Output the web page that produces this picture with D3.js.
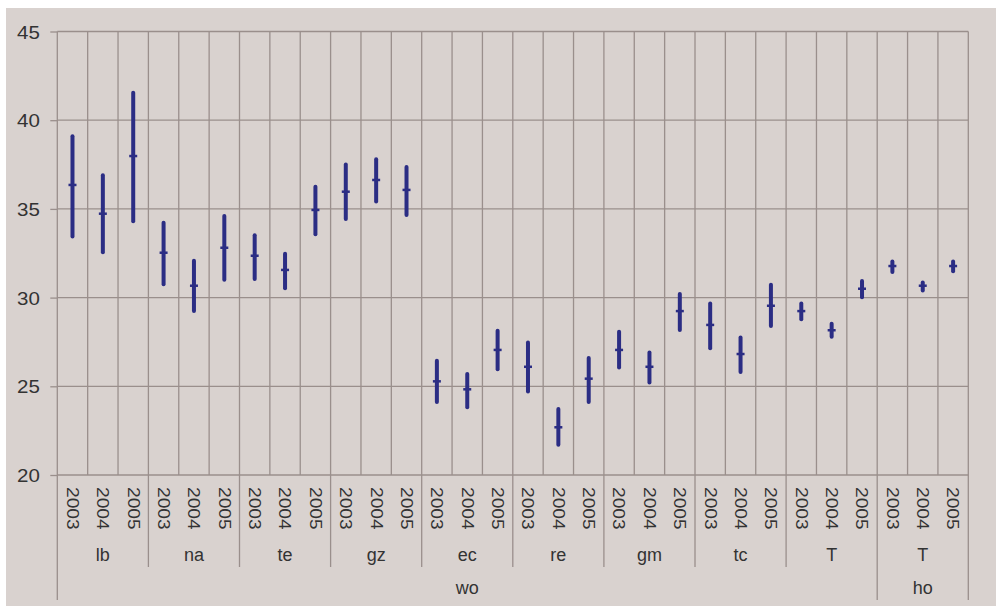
<!DOCTYPE html>
<html>
<head>
<meta charset="utf-8">
<script src="https://cdn.jsdelivr.net/npm/d3@7"></script>
<style>
  html, body { margin: 0; padding: 0; background: #ffffff; }
  svg { display: block; }
  text { font-family: "Liberation Sans", Arial, sans-serif; fill: #333333; }
</style>
</head>
<body>
<svg id="chart" width="996" height="606"></svg>
<script>
// Year within each site block
const years = ["2003", "2004", "2005"];
// Site blocks, left to right, with the region each belongs to
const sites = ["lb", "na", "te", "gz", "ec", "re", "gm", "tc", "T", "T"];
const regions = ["wo", "wo", "wo", "wo", "wo", "wo", "wo", "wo", "wo", "ho"];
const regionNames = ["wo", "ho"];

// Range per year: upper end, centre mark, lower end
const highs = [
  39.1, 36.9, 41.55,
  34.22, 32.08, 34.6,
  33.52, 32.47, 36.25,
  37.5, 37.8, 37.36,
  26.44, 25.69, 28.13,
  27.47, 23.72, 26.59,
  28.07, 26.9, 30.2,
  29.67, 27.75, 30.72,
  29.67, 28.52, 30.93,
  32.04, 30.85, 32.04
];
const means = [
  36.35, 34.73, 37.98,
  32.53, 30.67, 32.81,
  32.36, 31.56, 34.94,
  35.97, 36.63, 36.07,
  25.28, 24.83, 27.05,
  26.1, 22.69, 25.43,
  27.05, 26.1, 29.24,
  28.46, 26.82, 29.54,
  29.24, 28.16, 30.5,
  31.78, 30.67, 31.78
];
const lows = [
  33.45, 32.55, 34.3,
  30.75, 29.25, 31.0,
  31.05, 30.53, 33.57,
  34.43, 35.42, 34.66,
  24.12, 23.82, 25.96,
  24.7, 21.7, 24.12,
  26.06, 25.21, 28.18,
  27.15, 25.81, 28.4,
  28.78, 27.8, 30.02,
  31.45, 30.4, 31.49
];
const yTicks = [20, 25, 30, 35, 40, 45];

// One row per plotted range
const rows = [];
sites.forEach((s, si) => {
  years.forEach((yr, yi) => {
    const i = si * years.length + yi;
    rows.push({ key: i, site: si, year: yr, hi: highs[i], mid: means[i], lo: lows[i] });
  });
});

const W = 996, H = 606;
const plotLeft = 57.3, plotRight = 968.3, plotTop = 31.5, plotBottom = 475;

const svg = d3.select("#chart");

// Panel background
svg.append("rect")
  .attr("x", 6).attr("y", 8)
  .attr("width", W - 6).attr("height", H - 8)
  .attr("fill", "#d9d2cf");

const x = d3.scaleBand()
  .domain(rows.map(d => d.key))
  .range([plotLeft, plotRight])
  .padding(0);

const y = d3.scaleLinear()
  .domain([20, 45])
  .range([plotBottom, plotTop]);

const gridColor = "#9a8f8c";

// Horizontal gridlines
svg.append("g")
  .selectAll("line")
  .data(yTicks)
  .join("line")
  .attr("x1", plotLeft).attr("x2", plotRight)
  .attr("y1", d => y(d)).attr("y2", d => y(d))
  .attr("stroke", gridColor).attr("stroke-width", 1.3);

// Vertical gridlines between categories
const edges = d3.range(rows.length + 1).map(i => plotLeft + i * x.bandwidth());
svg.append("g")
  .selectAll("line")
  .data(edges)
  .join("line")
  .attr("x1", d => d).attr("x2", d => d)
  .attr("y1", plotTop).attr("y2", plotBottom)
  .attr("stroke", gridColor).attr("stroke-width", 1.3);

// Y axis with ticks and labels
const yAxis = svg.append("g")
  .attr("transform", `translate(${plotLeft},0)`)
  .call(d3.axisLeft(y).tickValues(yTicks).tickSize(7).tickPadding(10).tickFormat(d3.format("d")));
yAxis.select(".domain").remove();
yAxis.selectAll(".tick line").attr("stroke", gridColor).attr("stroke-width", 1.3);
yAxis.selectAll(".tick text")
  .attr("font-size", 19)
  .attr("fill", "#333333")
  .attr("dy", "0.35em")
  .attr("transform", "scale(1.08,1)")
  .attr("x", -17.5 / 1.08);

// Year labels, rotated to read downward
svg.append("g")
  .selectAll("text")
  .data(rows)
  .join("text")
  .attr("transform", d => `translate(${x(d.key) + x.bandwidth() / 2},487) rotate(90) scale(1.13,1)`)
  .attr("text-anchor", "start")
  .attr("dominant-baseline", "central")
  .attr("font-size", 17)
  .text(d => d.year);

// Site labels and separators
const siteW = x.bandwidth() * years.length;
svg.append("g")
  .selectAll("text")
  .data(sites)
  .join("text")
  .attr("x", (d, i) => plotLeft + (i + 0.5) * siteW)
  .attr("y", 555)
  .attr("text-anchor", "middle")
  .attr("dominant-baseline", "central")
  .attr("font-size", 18)
  .text(d => d);

// Region spans
const regionSpans = regionNames.map(r => {
  const idx = regions.map((v, i) => v === r ? i : -1).filter(i => i >= 0);
  return { name: r, start: d3.min(idx), end: d3.max(idx) + 1 };
});

const regionEdges = new Set();
regionSpans.forEach(s => { regionEdges.add(s.start); regionEdges.add(s.end); });

svg.append("g")
  .selectAll("line")
  .data(d3.range(sites.length + 1))
  .join("line")
  .attr("x1", i => plotLeft + i * siteW).attr("x2", i => plotLeft + i * siteW)
  .attr("y1", plotBottom)
  .attr("y2", i => regionEdges.has(i) ? 600 : 567)
  .attr("stroke", gridColor).attr("stroke-width", 1.3);

svg.append("g")
  .selectAll("text")
  .data(regionSpans)
  .join("text")
  .attr("x", d => plotLeft + (d.start + d.end) / 2 * siteW)
  .attr("y", 588)
  .attr("text-anchor", "middle")
  .attr("dominant-baseline", "central")
  .attr("font-size", 18)
  .text(d => d.name);

// Range bars with centre marks
const barColor = "#2b2d84";
const marks = svg.append("g");
marks.selectAll("line.range")
  .data(rows)
  .join("line")
  .attr("class", "range")
  .attr("x1", d => x(d.key) + x.bandwidth() / 2)
  .attr("x2", d => x(d.key) + x.bandwidth() / 2)
  .attr("y1", d => y(d.hi))
  .attr("y2", d => y(d.lo))
  .attr("stroke", barColor)
  .attr("stroke-width", 4)
  .attr("stroke-linecap", "round");

marks.selectAll("line.mid")
  .data(rows)
  .join("line")
  .attr("class", "mid")
  .attr("x1", d => x(d.key) + x.bandwidth() / 2 - 4)
  .attr("x2", d => x(d.key) + x.bandwidth() / 2 + 4)
  .attr("y1", d => y(d.mid))
  .attr("y2", d => y(d.mid))
  .attr("stroke", barColor)
  .attr("stroke-width", 2.5);
</script>
</body>
</html>
